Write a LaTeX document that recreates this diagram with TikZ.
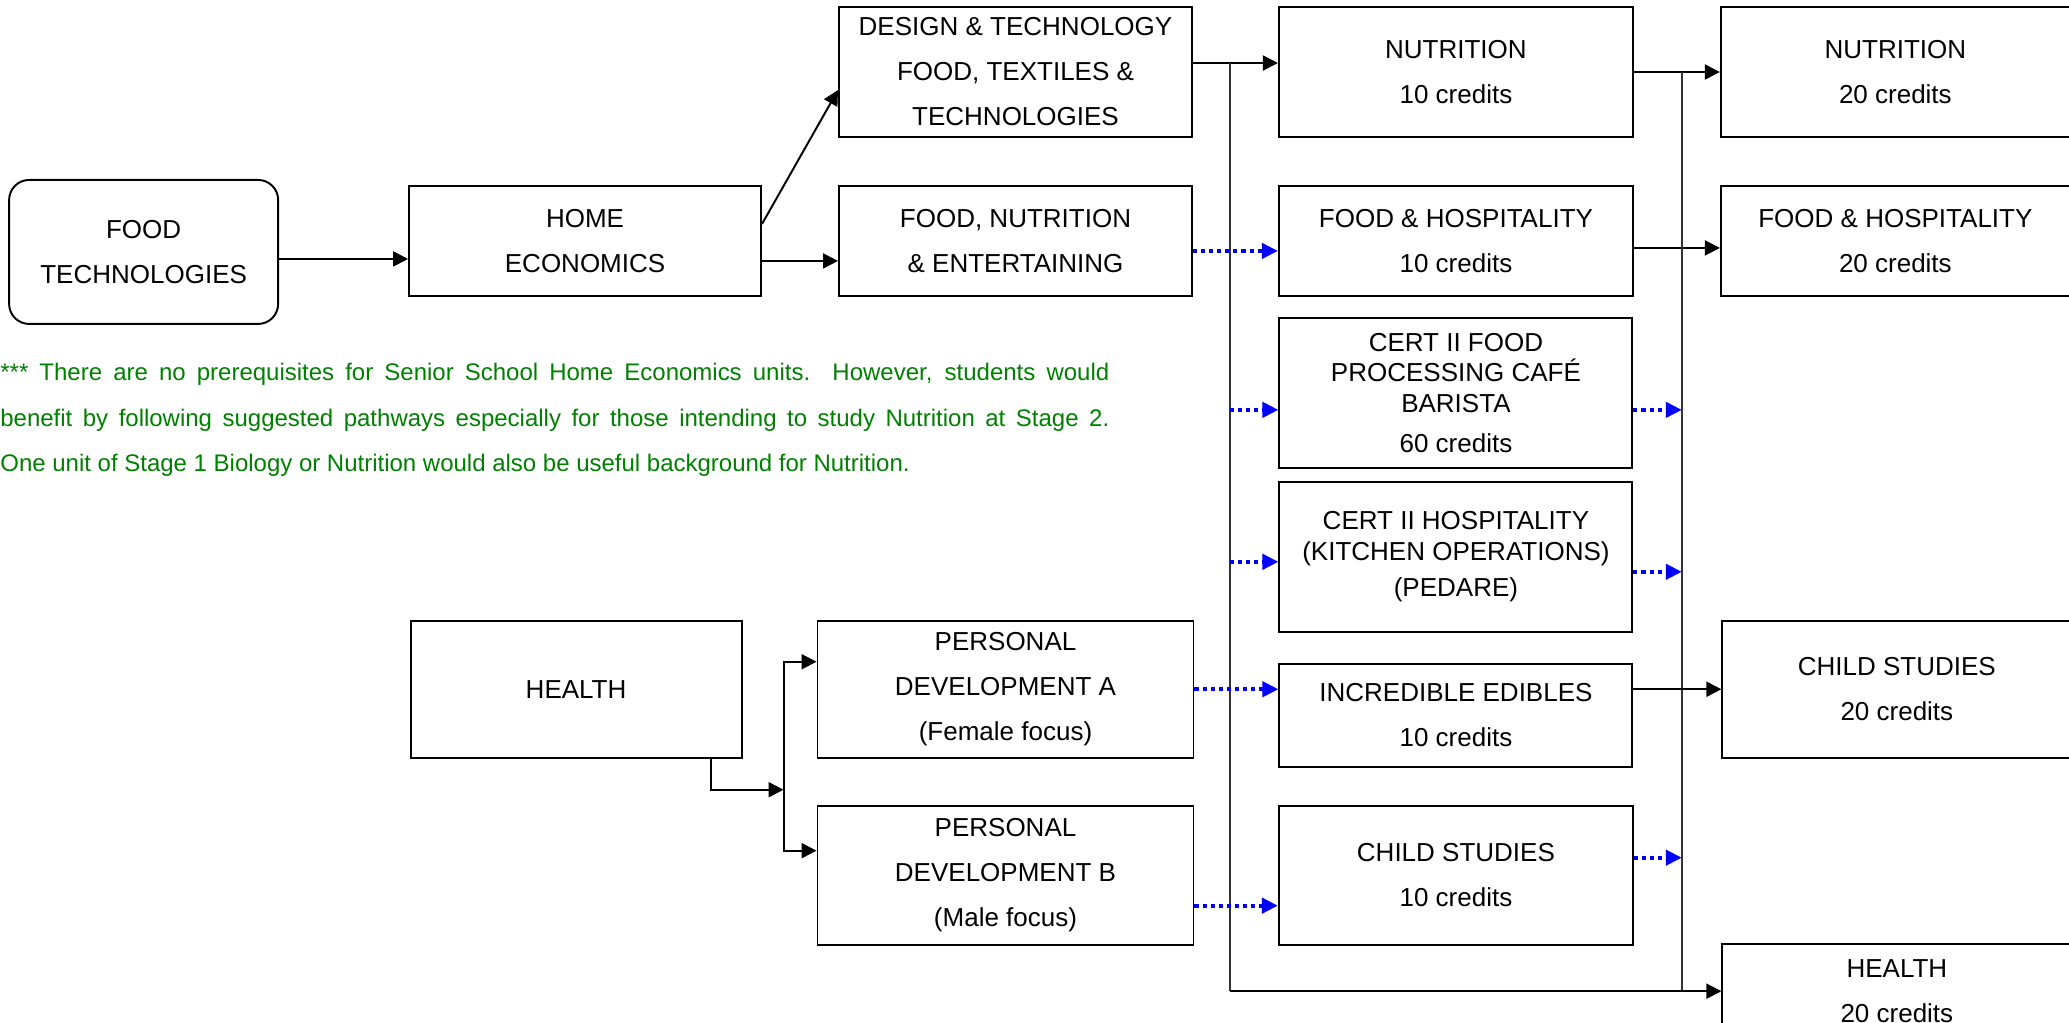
\documentclass[tikz,border=0pt]{standalone}
\usepackage{fontspec}
\setmainfont{Liberation Sans}
\definecolor{NoteGreen}{HTML}{008000}
\definecolor{PathBlue}{HTML}{0000FF}
\usetikzlibrary{arrows.meta, positioning}
\newcommand{\boxfont}{\fontsize{14.8pt}{25.6pt}\selectfont}
\newcommand{\certfont}{\fontsize{14.8pt}{17.4pt}\selectfont}
\newcommand{\notefont}{\fontsize{13.65pt}{25.9pt}\selectfont}
\tikzset{
    % Course box style
    course/.style={
        rectangle,
        draw=black,
        line width=1.1pt,
        fill=white,
        align=center,
        font=\boxfont
    },
    % Starting subject (rounded box)
    subject/.style={
        course,
        rounded corners=0.4cm
    },
    % Certificate box
    cert/.style={
        course,
        font=\certfont
    },
    % Arrow style
    arrow/.style={
        ->,
        >={Triangle[length=0.3cm, width=0.3cm]},
        line width=1.1pt,
        color=black
    },
    % Suggested pathway arrow
    dotarrow/.style={
        ->,
        >={Triangle[length=0.32cm, width=0.3cm]},
        line width=2.3pt,
        dash pattern=on 2.3pt off 2.3pt,
        color=PathBlue
    },
    % Vertical link line
    trunk/.style={
        line width=0.75pt,
        color=black!80
    },
    % Note text
    note/.style={
        text width=22.18cm,
        align=justify,
        inner sep=0pt,
        text=NoteGreen,
        font=\notefont
    }
}

\begin{document}
\begin{tikzpicture}[node distance=0.3cm and 1cm]
        \useasboundingbox (0,0) rectangle (41.38,-20.46);

        % Year 10 subjects
        \node (dt) [course, minimum width=7.06cm, minimum height=2.6cm] at (20.31,-1.44) {DESIGN \& TECHNOLOGY\\FOOD, TEXTILES \&\\TECHNOLOGIES};
        \node (fne) [course, below=0.94cm of dt, minimum width=7.06cm, minimum height=2.2cm] {FOOD, NUTRITION\\\& ENTERTAINING};
        \node (he) [course, left=1.52cm of fne, minimum width=7.04cm, minimum height=2.2cm] {HOME\\ECONOMICS};
        \node (ft) [subject, left=2.58cm of he, yshift=-0.22cm, minimum width=5.38cm, minimum height=2.88cm] {FOOD\\TECHNOLOGIES};

        % Stage 1
        \node (nut10) [course, right=1.7cm of dt, minimum width=7.08cm, minimum height=2.6cm] {NUTRITION\\10 credits};
        \node (fh10) [course, right=1.7cm of fne, minimum width=7.08cm, minimum height=2.2cm] {FOOD \& HOSPITALITY\\10 credits};
        \node (certf) [cert, below=0.4cm of fh10, minimum width=7.06cm, minimum height=3cm] {CERT II FOOD\\PROCESSING CAFÉ\\BARISTA\\[0.19cm]60 credits};
        \node (certh) [cert, below=0.24cm of certf, minimum width=7.06cm, minimum height=3cm] {CERT II HOSPITALITY\\(KITCHEN OPERATIONS)\\[0.12cm](PEDARE)};
        \node (ie) [course, below=0.6cm of certh, minimum width=7.06cm, minimum height=2.06cm] {INCREDIBLE EDIBLES\\10 credits};
        \node (cs10) [course, below=0.74cm of ie, minimum width=7.08cm, minimum height=2.78cm] {CHILD STUDIES\\10 credits};

        % Health pathway
        \node (pda) [course, left=1.68cm of ie, yshift=0.52cm, minimum width=7.52cm, minimum height=2.74cm] {PERSONAL\\DEVELOPMENT A\\(Female focus)};
        \node (pdb) [course, below=0.92cm of pda, minimum width=7.52cm, minimum height=2.78cm] {PERSONAL\\DEVELOPMENT B\\(Male focus)};
        \node (health) [course, left=1.48cm of pda, minimum width=6.62cm, minimum height=2.74cm] {HEALTH};

        % Stage 2
        \node (nut20) [course, right=1.72cm of nut10, minimum width=6.98cm, minimum height=2.6cm] {NUTRITION\\20 credits};
        \node (fh20) [course, right=1.72cm of fh10, minimum width=6.98cm, minimum height=2.2cm] {FOOD \& HOSPITALITY\\20 credits};
        \node (cs20) [course, right=1.76cm of ie, yshift=0.52cm, minimum width=6.98cm, minimum height=2.74cm] {CHILD STUDIES\\20 credits};
        \node (health20) [course, below=3.68cm of cs20, minimum width=6.98cm, minimum height=1.9cm] {HEALTH\\20 credits};

        % Note
        \node (note) [note, anchor=north west] at (0,-7.26) {*** There are no prerequisites for Senior School Home Economics units.\ \ However, students would\linebreak benefit by following suggested pathways especially for those intending to study Nutrition at Stage 2.\linebreak One unit of Stage 1 Biology or Nutrition would also be useful background for Nutrition.};

        \draw [arrow] ([yshift=-0.14cm]ft.east) -- ([yshift=-0.14cm]ft.east -| he.west);
        \draw [arrow] ([yshift=0.34cm]he.east) -- ([yshift=-0.36cm]dt.west);
        \draw [arrow] ([yshift=-0.4cm]he.east) -- ([yshift=-0.4cm]he.east -| fne.west);
        \draw [arrow] ([yshift=0.18cm]dt.east) -- ([yshift=0.18cm]dt.east -| nut10.west);
        \draw [arrow] (nut10.east) -- (nut20.west);
        \draw [arrow] ([yshift=-0.14cm]fh10.east) -- ([yshift=-0.14cm]fh20.west);
        \draw [dotarrow] ([yshift=-0.2cm]fne.east) -- ([yshift=-0.2cm]fh10.west);

        % Link lines
        \coordinate (split1) at ([xshift=0.74cm, yshift=0.18cm]dt.east);
        \coordinate (split2) at ([xshift=0.96cm]nut10.east);
        \coordinate (base) at (health20.west);
        \draw [trunk] (split1) -- (split1 |- base);
        \draw [trunk] (split2) -- (split2 |- base);
        \draw [arrow] (split1 |- base) -- (base);

        \draw [dotarrow] ([yshift=-0.34cm]certf.west -| split1) -- ([yshift=-0.34cm]certf.west);
        \draw [dotarrow] ([yshift=-0.34cm]certf.east) -- ([yshift=-0.34cm]certf.east -| split2);
        \draw [dotarrow] ([yshift=-0.1cm]certh.west -| split1) -- ([yshift=-0.1cm]certh.west);
        \draw [dotarrow] ([yshift=-0.3cm]certh.east) -- ([yshift=-0.3cm]certh.east -| split2);
        \draw [dotarrow] (pda.east) -- (pda.east -| ie.west);
        \draw [arrow] (pda.east -| ie.east) -- (pda.east -| cs20.west);
        \draw [dotarrow] ([yshift=-0.61cm]pdb.east) -- ([yshift=-0.61cm]pdb.east -| cs10.west);
        \draw [dotarrow] ([yshift=0.35cm]cs10.east) -- ([yshift=0.35cm]cs10.east -| split2);

        % Health split
        \coordinate (hjoin) at ([xshift=-0.66cm, yshift=-0.62cm]pda.south west);
        \draw [arrow] ([xshift=-0.64cm]health.south east) |- (hjoin);
        \draw [arrow] (hjoin) |- ([yshift=0.55cm]pda.west);
        \draw [arrow] (hjoin) |- ([yshift=0.49cm]pdb.west);
    \end{tikzpicture}
\end{document}
